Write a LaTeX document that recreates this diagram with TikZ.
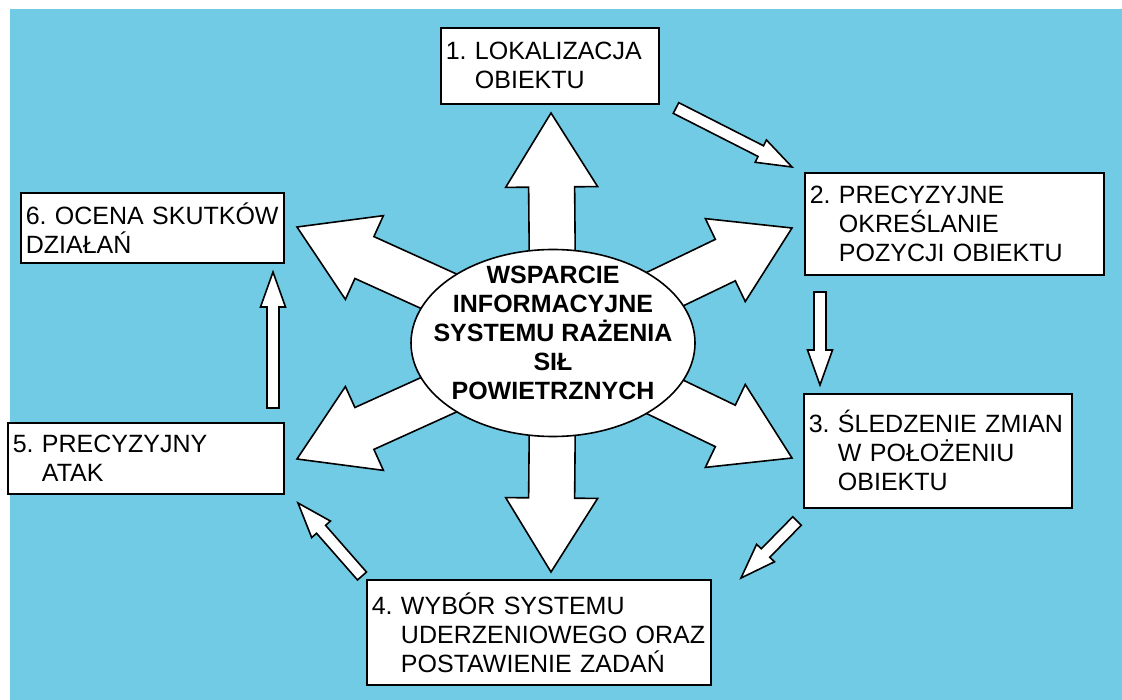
\documentclass[tikz,border=0pt]{standalone}
\usepackage{fontspec}
\setmainfont{Liberation Sans}
\usetikzlibrary{calc,shapes.geometric}
\definecolor{sheet}{RGB}{114,203,228}
\frenchspacing

% #1 tail, #2 tip, #3 half shaft, #4 half head, #5 head length
\newcommand\blockarrow[5]{%
  \draw[arrowbody] ($(#1)!#3!90:(#2)$)
    -- ($(#2)!#5!(#1)!#3!-90:(#1)$)
    -- ($(#2)!#5!(#1)!#4!-90:(#1)$)
    -- (#2)
    -- ($(#2)!#5!(#1)!#4!90:(#1)$)
    -- ($(#2)!#5!(#1)!#3!90:(#1)$)
    -- ($(#1)!#3!-90:(#2)$) -- cycle;}
\newcommand\ind[1]{\phantom{#1.\ }}

\begin{document}
\begin{tikzpicture}[x=1pt,y=-1pt,
    stage/.style={draw,fill=white,line width=1.6pt,anchor=north west,align=left,
      font=\fontsize{25}{29}\selectfont,inner xsep=5pt,inner ysep=0pt},
    hub/.style={ellipse,draw,fill=white,line width=1.6pt,inner sep=0pt,
      minimum width=284pt,minimum height=187pt},
    hubtext/.style={align=center,font=\fontsize{25}{29}\selectfont\bfseries},
    arrowbody/.style={draw,fill=white,line width=1.6pt,line join=miter}]
  \useasboundingbox (0,0) rectangle (1122,700);
  \fill[white] (0,0) rectangle (1122,700);
  \fill[sheet] (10,9) rectangle (1122,700);

  % stages
  \node[stage,text width=208pt,minimum height=76pt] (s1) at (440,27)
    {1. LOKALIZACJA\\\ind{1}OBIEKTU};
  \node[stage,text width=289pt,minimum height=102pt] (s2) at (804,172)
    {2. PRECYZYJNE\\\ind{2}OKREŚLANIE\\\ind{2}POZYCJI OBIEKTU};
  \node[stage,text width=258pt,minimum height=114pt] (s3) at (803,393)
    {3. ŚLEDZENIE ZMIAN\\\ind{3}W POŁOŻENIU\\\ind{3}OBIEKTU};
  \node[stage,text width=334pt,minimum height=105pt] (s4) at (366,579)
    {4. WYBÓR SYSTEMU\\\ind{4}UDERZENIOWEGO ORAZ\\\ind{4}POSTAWIENIE ZADAŃ};
  \node[stage,text width=266pt,minimum height=71pt] (s5) at (7,422)
    {5. PRECYZYJNY\\\ind{5}ATAK};
  \node[stage,text width=253pt,minimum height=70pt] (s6) at (20,192)
    {6. OCENA SKUTKÓW\\DZIAŁAŃ};

  % big arrows out of the centre
  \coordinate (mid) at (553,343);
  \coordinate (tipA) at (551,113);
  \coordinate (tipB) at (792,228);
  \coordinate (tipC) at (792,458);
  \coordinate (tipD) at (551,572);
  \coordinate (tipE) at (297,459);
  \coordinate (tipF) at (297,227);
  \foreach \t in {A,B,C,D,E,F}
    \blockarrow{mid}{tip\t}{23pt}{46pt}{74pt};

  \node[hub] (core) at (mid) {};
  \node[hubtext] (corelabel) at ($(core.center)+(0,-10)$)
    {WSPARCIE\\INFORMACYJNE\\SYSTEMU RAŻENIA\\SIŁ\\POWIETRZNYCH};

  % small arrows between the stages
  \coordinate (a12) at (676,108);  \coordinate (b12) at (792,167);
  \coordinate (a23) at (820,292);  \coordinate (b23) at (820,385);
  \coordinate (a34) at (797,521);  \coordinate (b34) at (741,578);
  \coordinate (a45) at (362,576);  \coordinate (b45) at (298,503);
  \coordinate (a56) at (273,408);  \coordinate (b56) at (273,272);
  \foreach \p in {12,23,34,45,56}
    \blockarrow{a\p}{b\p}{6pt}{12.5pt}{35pt};
\end{tikzpicture}
\end{document}
